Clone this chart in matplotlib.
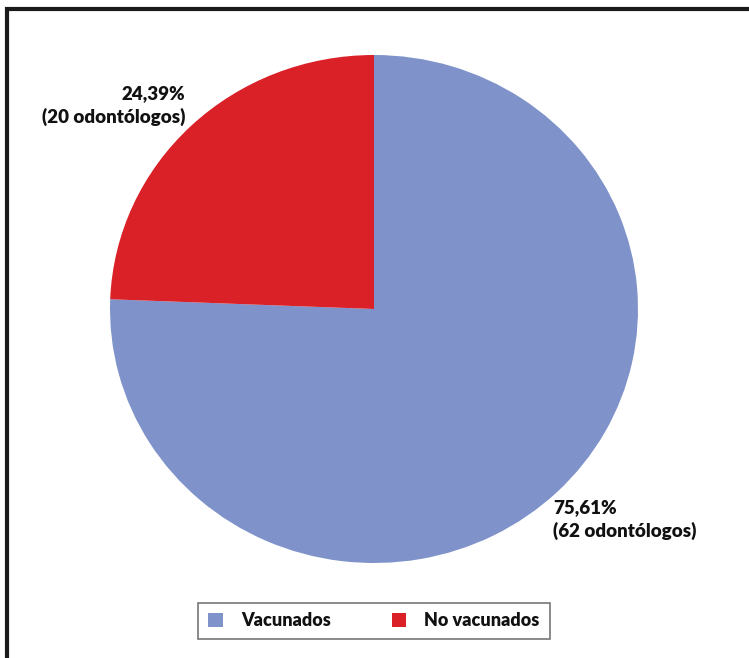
import matplotlib.pyplot as plt
from matplotlib.patches import Rectangle

categories = ["Vacunados", "No vacunados"]
percentages = [75.61, 24.39]
counts = [62, 20]
colors = ["#7F93CA", "#DA2128"]

W, H = 749, 658
fig = plt.figure(figsize=(W / 100, H / 100), dpi=100)
fig.patch.set_facecolor("white")

# black frame running off the right and bottom edge
fig.patches.append(Rectangle((7 / W, -0.1), 1.2, 1 - 9 / H + 0.1, transform=fig.transFigure,
                             fill=False, edgecolor="#1a1a1a", linewidth=3))

ax = fig.add_axes([110 / W, (H - 563) / H, 528 / W, 508 / H])
wedges, _ = ax.pie(percentages, colors=colors, startangle=90, counterclock=False,
                   wedgeprops=dict(linewidth=0))
ax.set_aspect("auto")
ax.set_xlim(-1, 1)
ax.set_ylim(-1, 1)

font = dict(family=["Lato", "DejaVu Sans"], fontweight="heavy", fontsize=13.5, color="#111111")
fig.text(185 / W, 1 - 94 / H, f"{percentages[1]:.2f}%".replace(".", ","), ha="right", va="center", **font)
fig.text(185 / W, 1 - 117 / H, f"({counts[1]} odontólogos)", ha="right", va="center", **font)
fig.text(553 / W, 1 - 508 / H, f"{percentages[0]:.2f}%".replace(".", ","), ha="left", va="center", **font)
fig.text(553 / W, 1 - 531 / H, f"({counts[0]} odontólogos)", ha="left", va="center", **font)

handles = [Rectangle((0, 0), 1, 1, facecolor=c, edgecolor="none") for c in colors]
leg = fig.legend(handles, categories, loc="center", bbox_to_anchor=(374 / W, 1 - 621 / H), ncol=2,
                 frameon=True, fancybox=False, edgecolor="#555555", handlelength=0.8, handleheight=0.8,
                 handletextpad=1.0, columnspacing=3.4, borderpad=0.55,
                 prop=dict(family=["Lato", "DejaVu Sans"], weight="heavy", size=13))
leg.get_frame().set_linewidth(1.2)
for t in leg.get_texts():
    t.set_color("#111111")

fig.savefig("out.png", dpi=100)
